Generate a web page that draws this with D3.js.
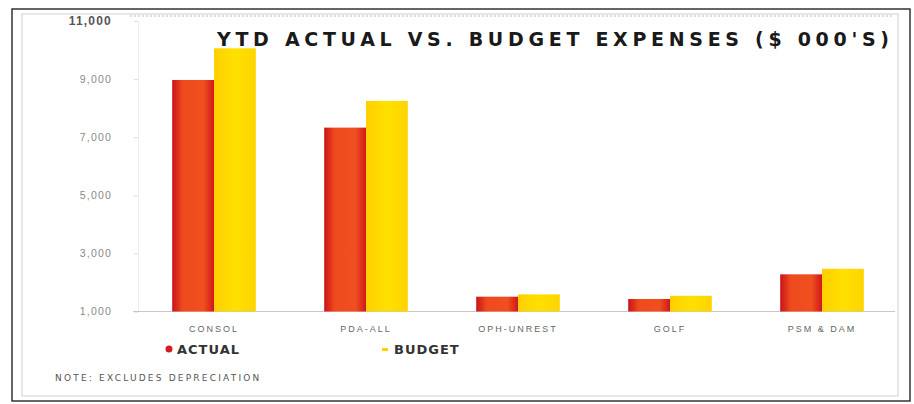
<!DOCTYPE html>
<html><head><meta charset="utf-8">
<script src="https://cdn.jsdelivr.net/npm/d3@7/dist/d3.min.js"></script>
<style>
body{margin:0;background:#fff;}
svg{display:block;font-family:"DejaVu Sans",Verdana,sans-serif;}
</style></head>
<body><svg id="c" width="914" height="404"></svg>
<script>
const categories = ["CONSOL","PDA-ALL","OPH-UNREST","GOLF","PSM & DAM"];
const actual = [8970, 7330, 1510, 1430, 2280];
const budget = [10060, 8250, 1590, 1540, 2470];
const seriesNames = ["ACTUAL","BUDGET"];
const yTicks = [1000, 3000, 5000, 7000, 9000, 11000];
const title = "YTD ACTUAL VS. BUDGET EXPENSES ($ 000'S)";
const note = "NOTE: EXCLUDES DEPRECIATION";

const svg = d3.select("#c");
const defs = svg.append("defs");
const g1 = defs.append("linearGradient").attr("id","gAct").attr("x1","0").attr("x2","1").attr("y1","0").attr("y2","0");
g1.append("stop").attr("offset","0%").attr("stop-color","#cc1218");
g1.append("stop").attr("offset","25%").attr("stop-color","#ee4a1e");
g1.append("stop").attr("offset","75%").attr("stop-color","#f04f1f");
g1.append("stop").attr("offset","100%").attr("stop-color","#d2161a");
const g2 = defs.append("linearGradient").attr("id","gBud").attr("x1","0").attr("x2","1").attr("y1","0").attr("y2","0");
g2.append("stop").attr("offset","0%").attr("stop-color","#ffcf00");
g2.append("stop").attr("offset","50%").attr("stop-color","#ffe000");
g2.append("stop").attr("offset","100%").attr("stop-color","#ffd400");

// frames
svg.append("rect").attr("x",12).attr("y",9).attr("width",898).attr("height",392).attr("fill","none").attr("stroke","#333").attr("stroke-width",1.5);
svg.append("rect").attr("x",22).attr("y",14).attr("width",876).attr("height",382).attr("fill","none").attr("stroke","#cfcfcf").attr("stroke-width",1);
svg.append("line").attr("x1",130).attr("x2",893).attr("y1",16).attr("y2",16).attr("stroke","#bbb").attr("stroke-dasharray","2,2");

const x = d3.scaleBand().domain(categories).range([138, 898]).paddingInner(0.45).paddingOuter(0.225);
const xs = d3.scaleBand().domain(seriesNames).range([0, x.bandwidth()]);
const y = d3.scaleLinear().domain([1000, 11000]).range([311.5, 21]);

// y axis
const ya = svg.append("g").attr("transform","translate(138,0)")
  .call(d3.axisLeft(y).tickValues(yTicks).tickFormat(d3.format(",")).tickSize(4).tickPadding(22));
ya.select(".domain").attr("stroke","#eee");
ya.selectAll(".tick line").attr("stroke","#ddd");
ya.selectAll(".tick text").attr("fill","#8a8a8a").attr("font-size",10.5).attr("letter-spacing","1.2px");
ya.selectAll(".tick text").filter(d=>d===11000).attr("fill","#555").attr("font-weight","bold").attr("font-size",12);

// baseline
svg.append("line").attr("x1",133).attr("x2",895).attr("y1",y(1000)).attr("y2",y(1000)).attr("stroke","#c8c8c8").attr("stroke-width",1);

// bars
const data = categories.map((c,i)=>({c, v:[actual[i], budget[i]]}));
const grp = svg.append("g").selectAll("g").data(data).join("g").attr("transform",d=>`translate(${x(d.c)},0)`);
grp.selectAll("rect").data(d=>d.v.map((v,j)=>({s:seriesNames[j], v})))
  .join("rect")
  .attr("x",d=>xs(d.s)).attr("width",xs.bandwidth())
  .attr("y",d=>y(d.v)).attr("height",d=>y(1000)-y(d.v))
  .attr("fill",d=>d.s==="ACTUAL"?"url(#gAct)":"url(#gBud)");

// x labels
const xa = svg.append("g").attr("transform",`translate(0,${y(1000)})`)
  .call(d3.axisBottom(x).tickSize(0).tickPadding(14));
xa.select(".domain").remove();
xa.selectAll(".tick text").attr("fill","#666").attr("font-size",9).attr("letter-spacing","2px");

// title
svg.append("text").attr("x",553).attr("y",46).attr("text-anchor","middle")
  .attr("font-size",19).attr("font-weight","bold").attr("fill","#1a1a1a")
  .attr("textLength",672).attr("lengthAdjust","spacing").text(title);

// legend
const leg = [{n:seriesNames[0], x:177, c:"#d41b20"},{n:seriesNames[1], x:394, c:"#ffd200"}];
leg.forEach((l,i)=>{
  if(i===0) svg.append("circle").attr("cx",l.x-8).attr("cy",349).attr("r",3.5).attr("fill",l.c);
  else svg.append("rect").attr("x",l.x-12).attr("y",348).attr("width",6).attr("height",3).attr("fill",l.c);
  svg.append("text").attr("x",l.x).attr("y",354).attr("font-size",13).attr("font-weight","bold")
    .attr("fill","#333").attr("letter-spacing","1px").text(l.n);
});

// note
svg.append("text").attr("x",55).attr("y",381).attr("font-size",9).attr("fill","#555")
  .attr("letter-spacing","2.2px").text(note);
</script></body></html>
